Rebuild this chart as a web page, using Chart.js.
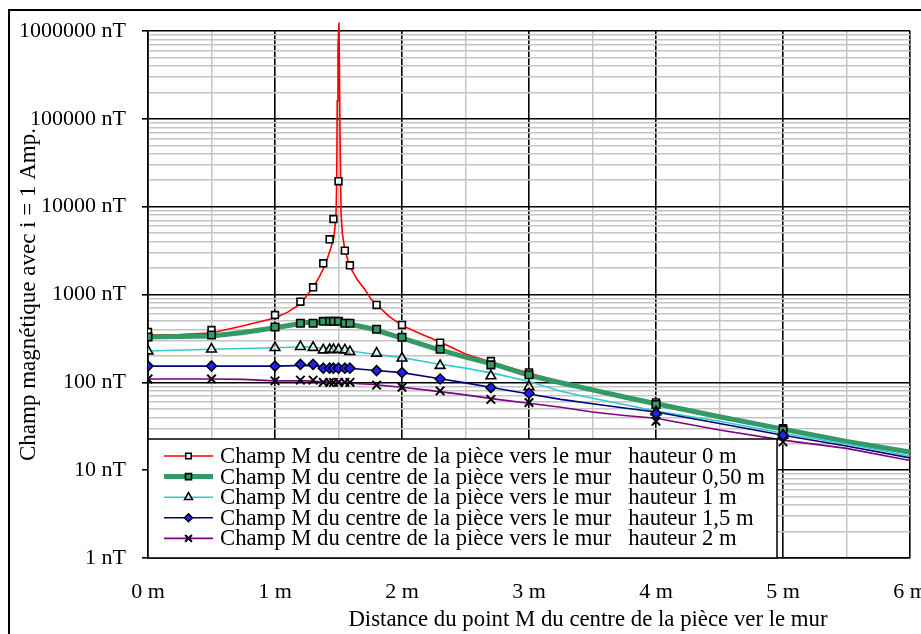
<!DOCTYPE html>
<html>
<head>
<meta charset="utf-8">
<script src="https://cdn.jsdelivr.net/npm/chart.js@4.4.1/dist/chart.umd.min.js"></script>
<style>
  html, body { margin: 0; padding: 0; background: #fff; overflow: hidden; }
  #wrap { position: relative; width: 921px; height: 634px; }
</style>
</head>
<body>
<div id="wrap"><canvas id="chart" width="921" height="634"></canvas></div>
<script>
// ---------------- DATA ----------------
const seriesLabels = [
  'Champ M du centre de la pièce vers le mur   hauteur 0 m',
  'Champ M du centre de la pièce vers le mur   hauteur 0,50 m',
  'Champ M du centre de la pièce vers le mur   hauteur 1 m',
  'Champ M du centre de la pièce vers le mur   hauteur 1,5 m',
  'Champ M du centre de la pièce vers le mur   hauteur 2 m'
];

// Continuous curve for height 0 m (distance in m, field in nT)
const curveX0 = [0, 0.25, 0.5, 0.75, 1.0, 1.1, 1.2, 1.3, 1.35, 1.4, 1.44, 1.465, 1.48, 1.486, 1.49, 1.496, 1.504, 1.512, 1.52, 1.53, 1.55, 1.59, 1.65, 1.71, 1.76, 1.9, 2.0, 2.15, 2.3, 2.5, 2.75, 3.0, 3.25, 3.5, 3.75, 4, 4.5, 5, 5.5, 6];
const curve0  = [346, 350, 365, 440, 540, 630, 780, 1200, 1600, 2250, 3400, 4600, 7700, 20000, 160000, 660000, 1250000, 68000, 8400, 5000, 3210, 2070, 1460, 1125, 870, 560, 445, 355, 288, 210, 162, 128, 101, 80, 66, 55.5, 39.5, 28.6, 20.7, 15.4];

// Continuous curves for the other heights
const curveX = [0, 0.5, 0.75, 1, 1.25, 1.5, 1.75, 2, 2.25, 2.5, 2.75, 3, 3.25, 3.5, 3.75, 4, 4.5, 5, 5.5, 6];
const curve050 = [328, 337, 370, 418, 480, 490, 410, 318, 245, 194, 157, 120, 99, 82, 68, 57, 40.6, 29.3, 21.2, 16.1];
const curve1   = [227, 238, 243, 248, 254, 238, 212, 191, 165, 145, 124, 102, 79, 66, 56, 47, 36, 26.3, 19.9, 14.5];
const curve15  = [153, 153, 153, 153, 156, 148, 138, 129, 113, 98.5, 85, 73.6, 64, 57, 51, 46, 34, 25, 18.8, 13.8];
const curve2   = [109, 109, 108, 104, 104, 99, 95, 88, 80, 72, 64, 57.7, 52, 46, 42, 39, 28.7, 22, 17.7, 12.9];

// Marked points
const markerX    = [0, 0.5, 1, 1.2, 1.3, 1.38, 1.43, 1.46, 1.5, 1.55, 1.59, 1.8, 2, 2.3, 2.7, 3, 4, 5];
const markers0   = [374, 394, 584, 828, 1208, 2265, 4250, 7240, 19500, 3155, 2150, 760, 450, 283, 175, 130, 59, 30];
const markers050 = [328, 346, 427, 470, 470, 495, 495, 495, 495, 470, 470, 402, 326, 238, 158, 122, 56, 28.7];
const markers1   = [227, 238, 248, 255, 249, 233, 236, 236, 236, 233, 223, 214, 188, 155, 118, 89, 46, 25];
const markers15  = [153, 153, 153, 160, 160, 145, 145, 145, 145, 145, 145, 136, 129, 109, 87, 75, 44, 25];
const markers2   = [109, 109, 104, 106, 106, 100, 100, 100, 100, 100, 100, 93, 88, 80, 64, 59, 36, 21];

// Ticks
const xMajorTicks = [0, 1, 2, 3, 4, 5, 6];
const xTickLabels = ['0 m', '1 m', '2 m', '3 m', '4 m', '5 m', '6 m'];
const xMinorTicks = [0.5, 1.5, 2.5, 3.5, 4.5, 5.5];
const yMajorTicks = [1, 10, 100, 1000, 10000, 100000, 1000000];
const yTickLabels = ['1 nT', '10 nT', '100 nT', '1000 nT', '10000 nT', '100000 nT', '1000000 nT'];
const yMinorMultipliers = [2, 3, 4, 5, 6, 7, 8, 9];

const yAxisTitle = 'Champ magnétique avec i = 1 Amp.';
const xAxisTitle = 'Distance du point M du centre de la pièce ver le mur';

// ---------------- STYLE ----------------
const FONT = '"Liberation Serif", "Times New Roman", Times, serif';
const lineStyles = [
  { color: '#ff0000', width: 1.6 },
  { color: '#339966', width: 5 },
  { color: '#33cccc', width: 1.6 },
  { color: '#000080', width: 1.6 },
  { color: '#800080', width: 1.6 }
];
const markerStyles = [
  { pointStyle: 'rect',     radius: 4.8, bg: '#ffffff', bw: 1.6 },
  { pointStyle: 'rect',     radius: 5.3, bg: '#339966', bw: 1.6 },
  { pointStyle: 'triangle', radius: 5.6, bg: 'rgba(255,255,255,0.6)', bw: 1.6 },
  { pointStyle: 'rectRot',  radius: 5.0, bg: '#2020ff', bw: 1.5 },
  { pointStyle: 'crossRot', radius: 6.0, bg: '#000000', bw: 2.0 }
];

const pairs = (xs, ys) => xs.map((x, i) => ({ x: x, y: ys[i] }));
const curves = [pairs(curveX0, curve0), pairs(curveX, curve050), pairs(curveX, curve1), pairs(curveX, curve15), pairs(curveX, curve2)];
const marks  = [markers0, markers050, markers1, markers15, markers2].map(m => pairs(markerX, m));

const datasets = [];
curves.forEach((pts, i) => {
  datasets.push({
    label: seriesLabels[i],
    data: pts,
    borderColor: lineStyles[i].color,
    backgroundColor: lineStyles[i].color,
    borderWidth: lineStyles[i].width,
    pointRadius: 0,
    tension: 0,
    fill: false,
    clip: i === 0 ? false : undefined,
    order: 10 - i
  });
});
marks.forEach((pts, i) => {
  const m = markerStyles[i];
  datasets.push({
    label: seriesLabels[i] + ' (points)',
    data: pts,
    showLine: false,
    pointStyle: m.pointStyle,
    pointRadius: m.radius,
    pointBackgroundColor: m.bg,
    pointBorderColor: '#000000',
    pointBorderWidth: m.bw,
    order: 5 - i
  });
});

// ---------------- PLUGINS ----------------
const framePlugin = {
  id: 'frame',
  beforeDraw(chart) {
    const c = chart.ctx;
    c.save();
    c.fillStyle = '#ffffff';
    c.fillRect(0, 0, chart.width, chart.height);
    c.strokeStyle = '#000000';
    c.lineWidth = 2;
    c.strokeRect(9, 10, chart.width + 40, chart.height + 40);
    c.restore();
  },
  afterDraw(chart) {
    const c = chart.ctx;
    c.save();
    c.fillStyle = '#000000';
    c.font = '22.8px ' + FONT;
    c.textAlign = 'center';
    c.textBaseline = 'middle';
    c.fillText(xAxisTitle, 588, 620);
    c.restore();
  }
};

const boxLegend = {
  id: 'boxLegend',
  afterDatasetsDraw(chart) {
    const c = chart.ctx;
    const ca = chart.chartArea;
    const left = ca.left, bottom = ca.bottom;
    const right = 777, top = 439;
    c.save();
    c.fillStyle = '#ffffff';
    c.fillRect(left, top, right - left, bottom - top);
    c.strokeStyle = '#000000';
    c.lineWidth = 1.5;
    c.strokeRect(left, top, right - left, bottom - top);
    const rowY0 = 456, rowStep = 20.6;
    seriesLabels.forEach((lab, i) => {
      const y = rowY0 + i * rowStep;
      const ls = lineStyles[i];
      c.beginPath();
      c.strokeStyle = ls.color;
      c.lineWidth = ls.width;
      c.moveTo(164, y);
      c.lineTo(213, y);
      c.stroke();
      const m = markerStyles[i];
      c.fillStyle = m.bg;
      c.strokeStyle = '#000000';
      c.lineWidth = m.bw;
      Chart.helpers.drawPoint(c, { pointStyle: m.pointStyle, radius: m.radius * 0.8, rotation: 0, borderWidth: m.bw }, 188.5, y);
      c.fillStyle = '#000000';
      c.font = '22.7px ' + FONT;
      c.textAlign = 'left';
      c.textBaseline = 'middle';
      c.fillText(lab, 220, y + 1);
    });
    c.restore();
  }
};

// ---------------- CHART ----------------
const yTicksBuilt = [];
yMajorTicks.forEach((v, i) => {
  yTicksBuilt.push({ value: v, major: true });
  if (i < yMajorTicks.length - 1) yMinorMultipliers.forEach(k => yTicksBuilt.push({ value: v * k, major: false }));
});
const xTicksBuilt = xMajorTicks.map(v => ({ value: v, major: true }))
  .concat(xMinorTicks.map(v => ({ value: v, major: false })))
  .sort((a, b) => a.value - b.value);

new Chart(document.getElementById('chart'), {
  type: 'line',
  data: { datasets: datasets },
  options: {
    responsive: false,
    animation: false,
    events: [],
    devicePixelRatio: 1,
    layout: { padding: { left: 0, top: 31, right: 11, bottom: 0 } },
    plugins: { legend: { display: false }, tooltip: { enabled: false } },
    scales: {
      x: {
        type: 'linear',
        min: 0, max: 6,
        afterBuildTicks(scale) { scale.ticks = xTicksBuilt.map(t => ({ value: t.value, major: t.major })); },
        afterFit(scale) { scale.height = 76; scale.paddingRight = 0; scale.paddingLeft = 0; },
        ticks: {
          autoSkip: false,
          maxRotation: 0,
          padding: 21,
          color: '#000000',
          font: { family: FONT, size: 22 },
          callback(v) { const i = xMajorTicks.indexOf(v); return i >= 0 ? xTickLabels[i] : ''; }
        },
        grid: {
          drawTicks: false,
          color: ctx => (ctx.tick && ctx.tick.major) ? '#000000' : '#c4c4c4',
          lineWidth: ctx => (ctx.tick && ctx.tick.major) ? 1.6 : 1.5
        },
        border: { display: true, color: '#000000', width: 1.6 }
      },
      y: {
        type: 'logarithmic',
        min: 1, max: 1000000,
        afterBuildTicks(scale) { scale.ticks = yTicksBuilt.map(t => ({ value: t.value, major: t.major })); },
        afterFit(scale) { scale.width = 148; scale.paddingTop = 0; scale.paddingBottom = 0; },
        ticks: {
          autoSkip: false,
          padding: 16,
          color: '#000000',
          font: { family: FONT, size: 22 },
          callback(v) { const i = yMajorTicks.indexOf(v); return i >= 0 ? yTickLabels[i] : ''; }
        },
        grid: {
          drawTicks: true,
          tickLength: 6,
          tickColor: ctx => (ctx.tick && ctx.tick.major) ? '#000000' : 'rgba(0,0,0,0)',
          color: ctx => (ctx.tick && ctx.tick.major) ? '#000000' : '#c4c4c4',
          lineWidth: ctx => (ctx.tick && ctx.tick.major) ? 1.6 : 1.5
        },
        border: { display: true, color: '#000000', width: 1.6 },
        title: {
          display: true,
          text: yAxisTitle,
          color: '#000000',
          font: { family: FONT, size: 23 },
          padding: { top: 15, bottom: 0 }
        }
      }
    }
  },
  plugins: [framePlugin, boxLegend]
});
</script>
</body>
</html>
